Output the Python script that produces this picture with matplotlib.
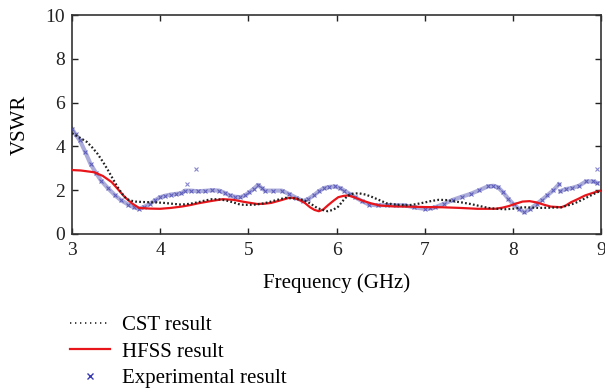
import numpy as np
import matplotlib
matplotlib.use("Agg")
import matplotlib.pyplot as plt

plt.rcParams['font.family'] = ['Liberation Serif', 'DejaVu Serif']

# ---- data ----
hfss_f = [3.0, 3.1, 3.25, 3.35, 3.45, 3.52, 3.6, 3.68, 3.76, 3.88, 4.0, 4.12, 4.24, 4.34, 4.43, 4.57,
          4.71, 4.83, 4.96, 5.1, 5.18, 5.26, 5.36, 5.46, 5.52, 5.58, 5.64, 5.7, 5.75, 5.8, 5.85, 5.9,
          5.96, 6.02, 6.08, 6.13, 6.2, 6.29, 6.39, 6.49, 6.65, 6.81, 7.0, 7.2, 7.4, 7.6, 7.8, 7.88,
          7.95, 8.03, 8.11, 8.19, 8.27, 8.35, 8.43, 8.55, 8.6, 8.66, 8.74, 8.82, 8.91, 9.0]
hfss_v = [2.92, 2.9, 2.82, 2.65, 2.37, 2.05, 1.68, 1.4, 1.19, 1.16, 1.15, 1.19, 1.25, 1.32, 1.4, 1.5,
          1.59, 1.56, 1.46, 1.37, 1.38, 1.42, 1.53, 1.65, 1.64, 1.56, 1.42, 1.22, 1.1, 1.04, 1.12, 1.3,
          1.5, 1.68, 1.74, 1.76, 1.68, 1.53, 1.4, 1.3, 1.26, 1.25, 1.23, 1.22, 1.19, 1.15, 1.15, 1.2,
          1.27, 1.38, 1.48, 1.5, 1.44, 1.34, 1.25, 1.22, 1.3, 1.45, 1.6, 1.76, 1.88, 1.98]

cst_f = [3.0, 3.08, 3.17, 3.23, 3.29, 3.35, 3.41, 3.47, 3.53, 3.58, 3.62, 3.67, 3.72, 3.8, 3.88, 3.96,
         4.04, 4.14, 4.24, 4.34, 4.43, 4.51, 4.59, 4.67, 4.75, 4.83, 4.91, 4.99, 5.07, 5.15, 5.23,
         5.32, 5.42, 5.52, 5.62, 5.7, 5.78, 5.84, 5.9, 5.96, 6.02, 6.08, 6.13, 6.19, 6.25, 6.33,
         6.41, 6.49, 6.57, 6.69, 6.81, 6.9, 7.0, 7.08, 7.16, 7.24, 7.32, 7.42, 7.52, 7.62, 7.72,
         7.82, 7.92, 8.02, 8.11, 8.2, 8.3, 8.42, 8.55, 8.62, 8.7, 8.78, 8.86, 8.93, 9.0]
cst_v = [4.6, 4.42, 4.2, 3.95, 3.66, 3.3, 2.9, 2.47, 2.06, 1.78, 1.6, 1.52, 1.48, 1.46, 1.45, 1.44,
         1.42, 1.38, 1.34, 1.38, 1.45, 1.53, 1.59, 1.58, 1.53, 1.44, 1.34, 1.33, 1.34, 1.38, 1.45,
         1.55, 1.65, 1.62, 1.56, 1.4, 1.19, 1.1, 1.04, 1.1, 1.25, 1.55, 1.76, 1.84, 1.86, 1.8,
         1.68, 1.54, 1.4, 1.33, 1.31, 1.36, 1.44, 1.51, 1.56, 1.55, 1.5, 1.44, 1.37, 1.28, 1.19,
         1.15, 1.13, 1.16, 1.22, 1.21, 1.19, 1.2, 1.22, 1.3, 1.4, 1.55, 1.71, 1.85, 1.98]

exp_f = [3.0, 3.04, 3.09, 3.15, 3.21, 3.27, 3.33, 3.41, 3.49, 3.56, 3.64, 3.7, 3.76, 3.82, 3.88,
         3.94, 4.0, 4.06, 4.12, 4.18, 4.24, 4.28, 4.35, 4.43, 4.51, 4.59, 4.67, 4.73, 4.79, 4.85,
         4.91, 4.96, 5.01, 5.06, 5.11, 5.15, 5.19, 5.28, 5.38, 5.46, 5.54, 5.62, 5.68, 5.74, 5.8,
         5.86, 5.92, 5.98, 6.04, 6.09, 6.15, 6.21, 6.29, 6.37, 6.47, 6.57, 6.67, 6.77, 6.88, 7.0,
         7.06, 7.12, 7.22, 7.32, 7.42, 7.52, 7.62, 7.72, 7.78, 7.83, 7.89, 7.95, 8.01, 8.07, 8.13,
         8.2, 8.27, 8.33, 8.39, 8.46, 8.52, np.nan,
         8.54, 8.6, 8.67, 8.75, 8.83, 8.91, 8.96]
exp_v = [4.8, 4.55, 4.27, 3.75, 3.2, 2.8, 2.44, 2.08, 1.76, 1.53, 1.34, 1.22, 1.15, 1.24, 1.37,
         1.53, 1.68, 1.75, 1.8, 1.83, 1.86, 1.98, 1.98, 1.95, 1.97, 2.0, 1.98, 1.88, 1.76, 1.7,
         1.68, 1.76, 1.9, 2.06, 2.24, 2.1, 1.98, 1.98, 1.98, 1.83, 1.66, 1.5, 1.6, 1.76, 1.95,
         2.1, 2.15, 2.17, 2.1, 1.98, 1.83, 1.68, 1.5, 1.34, 1.31, 1.32, 1.31, 1.31, 1.22, 1.15,
         1.17, 1.22, 1.38, 1.56, 1.7, 1.83, 2.0, 2.18, 2.2, 2.14, 1.9, 1.6, 1.35, 1.15, 0.99,
         1.15, 1.37, 1.56, 1.76, 2.0, 2.26, np.nan,
         1.96, 2.05, 2.1, 2.2, 2.4, 2.4, 2.33]

out_f = [4.3, 4.41, 8.96]
out_v = [2.29, 2.95, 2.97]

xticks = [3, 4, 5, 6, 7, 8, 9]
yticks = [0, 2, 4, 6, 8, 10]

fig = plt.figure(figsize=(6.05, 3.89), dpi=100)
ax = fig.add_axes([0.119, 0.3985, 0.8744, 0.5629])

ax.plot(exp_f, exp_v, color='#5a5ab8', lw=3.0, alpha=0.5, zorder=2)
ax.plot(exp_f, exp_v, ls='none', marker='x', ms=3.5, mew=0.8, color='#4646b0', alpha=0.75, zorder=3)
ax.plot(out_f, out_v, ls='none', marker='x', ms=3.5, mew=0.8, color='#6a6ac0', alpha=0.8, zorder=3)
ax.plot(hfss_f, hfss_v, color='#e8151b', lw=1.6, zorder=4)
ax.plot(cst_f, cst_v, color='#222222', lw=1.6, ls=(0, (0.8, 1.0)), zorder=5)

ax.set_xlim(3, 9)
ax.set_ylim(0, 10)
ax.set_xticks(xticks)
ax.set_yticks(yticks)
ax.tick_params(direction='in', top=True, right=True, length=4, width=1, labelsize=14, colors='#222222')
ax.tick_params(axis='x', pad=6)
ax.tick_params(axis='y', pad=5)
for s in ax.spines.values():
    s.set_linewidth(1.2)
    s.set_color('#333333')
ax.set_xlabel('Frequency (GHz)', fontsize=15, labelpad=10)
ax.set_ylabel('VSWR', fontsize=15, labelpad=11)

from matplotlib.lines import Line2D
handles = [Line2D([], [], color='#222222', lw=1.2, ls=(0, (0.8, 2.2))),
           Line2D([], [], color='#e8151b', lw=1.6),
           Line2D([], [], color='#3a3ab0', ls='none', marker='x', ms=5, mew=1.0)]
labels = ['CST result', 'HFSS result', 'Experimental result']
fig.legend(handles, labels, loc='upper left', bbox_to_anchor=(0.116, 0.189), frameon=False,
           fontsize=15, handlelength=1.9, handletextpad=0.58, labelspacing=0.33,
           borderaxespad=0, borderpad=0)

fig.savefig('out.png', dpi=100)
